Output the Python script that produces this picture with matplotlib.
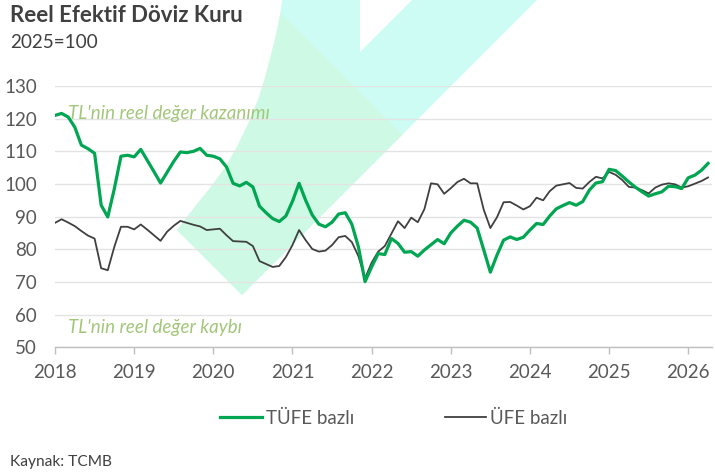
import matplotlib
matplotlib.use("Agg")
import matplotlib.pyplot as plt
from matplotlib.patches import Polygon
import numpy as np

W, H = 715, 474

years = ["2018", "2019", "2020", "2021", "2022", "2023", "2024", "2025", "2026"]

# Monthly values, Jan 2018 - Apr 2026
tufe = [
    121.0, 121.6, 120.5, 117.4, 111.9, 110.8, 109.4, 93.5, 89.9, 98.6, 108.5, 108.8,   # 2018
    108.3, 110.6, 107.2, 103.8, 100.3, 103.6, 106.9, 109.8, 109.6, 110.0, 110.9, 108.8,  # 2019
    108.5, 107.7, 105.2, 100.2, 99.4, 100.5, 99.1, 93.2, 91.2, 89.4, 88.5, 90.2,        # 2020
    94.7, 100.2, 95.0, 90.5, 87.7, 86.9, 88.3, 90.8, 91.2, 87.7, 80.7, 70.1,            # 2021
    74.6, 78.7, 78.4, 83.3, 81.8, 79.1, 79.3, 77.9, 79.8, 81.4, 83.0, 81.7,             # 2022
    85.0, 87.1, 88.9, 88.3, 86.5, 79.8, 73.0, 78.2, 82.8, 83.8, 83.0, 83.7,             # 2023
    85.9, 87.9, 87.6, 90.2, 92.4, 93.4, 94.3, 93.5, 94.6, 98.1, 100.3, 100.7,           # 2024
    104.5, 104.1, 102.4, 100.6, 99.0, 97.6, 96.3, 97.0, 97.6, 99.3, 99.2, 98.6,         # 2025
    101.9, 102.7, 104.2, 106.3,                                                         # 2026
]
ufe = [
    88.1, 89.2, 88.2, 87.1, 85.6, 84.2, 83.3, 74.2, 73.6, 80.8, 86.9, 86.9,             # 2018
    86.1, 87.6, 86.0, 84.3, 82.6, 85.4, 87.2, 88.7, 88.1, 87.5, 87.0, 85.9,             # 2019
    86.1, 86.3, 84.3, 82.5, 82.4, 82.3, 81.0, 76.4, 75.5, 74.6, 74.9, 77.6,             # 2020
    81.3, 85.9, 82.8, 80.1, 79.3, 79.6, 81.3, 83.7, 84.1, 82.2, 77.9, 71.1,             # 2021
    75.9, 79.3, 81.0, 84.8, 88.6, 86.5, 89.7, 88.3, 92.3, 100.2, 99.9, 97.0,            # 2022
    98.7, 100.6, 101.6, 100.2, 100.2, 92.1, 86.5, 89.8, 94.4, 94.5, 93.4, 92.2,         # 2023
    93.2, 95.8, 95.0, 97.8, 99.5, 99.9, 100.3, 98.8, 98.6, 100.6, 102.2, 101.7,         # 2024
    103.7, 102.8, 101.2, 99.1, 98.9, 98.1, 97.1, 98.9, 99.8, 100.2, 99.9, 98.9,         # 2025
    99.3, 100.1, 100.9, 102.0,                                                          # 2026
]

series_names = ["TÜFE bazlı", "ÜFE bazlı"]
yticks = [50, 60, 70, 80, 90, 100, 110, 120, 130]

GREEN = "#00a651"
DARK = "#404040"
TXT = "#595959"
ANN = "#a3c77a"

plt.rcParams["font.family"] = ["Lato", "DejaVu Sans"]

fig = plt.figure(figsize=(W / 100, H / 100), dpi=100)

def px(x, y):
    return (x / W, 1 - y / H)

# decorative check-mark background
shape_pts = [(283, -5), (360, -5), (360, 52), (412, 0), (412, -5), (542, -5),
             (242, 295), (177, 230), (194, 208), (210, 188), (225, 168),
             (238, 145), (249, 122), (258, 100), (265, 78), (271, 55),
             (276, 35), (280, 15), (283, -5)]
shape_fig = [px(x, y) for x, y in shape_pts]
cyan = Polygon(shape_fig, closed=True, transform=fig.transFigure,
               facecolor="#ccfcf3", edgecolor="none", zorder=-5)
fig.patches.append(cyan)
mint = Polygon(shape_fig, closed=True, transform=fig.transFigure,
               facecolor="#cefae5", edgecolor="none", zorder=-4)
clip = Polygon([px(*p) for p in [(168, -100), (868, 600), (-100, 600), (-100, -100)]],
               closed=True, transform=fig.transFigure, facecolor="none")
fig.patches.append(mint)
mint.set_clip_path(clip)

left = 55 / W
bottom = 1 - 347.3 / H
top = 1 - 86 / H
right = 712 / W
ax = fig.add_axes([left, bottom, right - left, top - bottom])
ax.set_facecolor("none")

x = np.arange(len(tufe))
ax.plot(x, tufe, color=GREEN, lw=2.3, label=series_names[0], zorder=4,
        solid_joinstyle="round")
ax.plot(x, ufe, color=DARK, lw=1.3, label=series_names[1], zorder=3,
        solid_joinstyle="round")

ax.set_xlim(0, 99.6)
ax.set_ylim(50, 130)
ax.set_yticks(yticks)
ax.set_xticks(np.arange(len(years)) * 12)
ax.set_xticklabels(years)
ax.grid(axis="y", color="#e3e3e3", lw=1.0, zorder=0)
ax.set_axisbelow(True)
for s in ["top", "right", "left"]:
    ax.spines[s].set_visible(False)
ax.spines["bottom"].set_color("#bfbfbf")
ax.spines["bottom"].set_linewidth(1.0)
ax.tick_params(axis="y", length=0, pad=13, labelsize=13.5, labelcolor=TXT)
ax.tick_params(axis="x", length=5, width=1, color="#bfbfbf", pad=7,
               labelsize=13.5, labelcolor=TXT, direction="out")

ax.text(2, 121.5, "TL'nin reel değer kazanımı", fontsize=13.5, style="italic",
        color=ANN, va="center", ha="left")
ax.text(2, 56, "TL'nin reel değer kaybı", fontsize=13.5, style="italic",
        color=ANN, va="center", ha="left")

fig.text(10 / W, 1 - 15 / H, "Reel Efektif Döviz Kuru", fontsize=16,
         fontweight="bold", color=DARK, va="center", ha="left")
fig.text(10 / W, 1 - 42 / H, "2025=100", fontsize=13.6, color=DARK,
         va="center", ha="left")
fig.text(10 / W, 1 - 462 / H, "Kaynak: TCMB", fontsize=11.2, color=DARK,
         va="center", ha="left")

fig.legend(loc="center", bbox_to_anchor=(394 / W, 1 - 418 / H), ncol=2,
           frameon=False, fontsize=13.5, handlelength=2.2, handletextpad=0.25,
           columnspacing=4.8, labelcolor=TXT)

fig.savefig("out.png", dpi=100)
